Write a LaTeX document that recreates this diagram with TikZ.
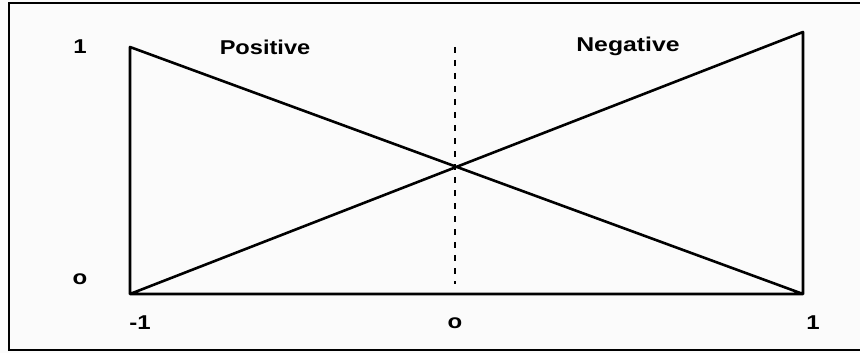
\documentclass[tikz,border=0pt]{standalone}
\usepackage{fontspec}
\setmainfont{Liberation Sans}
\begin{document}
\begin{tikzpicture}[x=1pt,y=-1pt,
  lbl/.style={font=\fontsize{20}{23}\selectfont\bfseries, inner sep=0pt, anchor=center},
  mf/.style={line width=2.6pt, line join=round, line cap=round},
  frame/.style={line width=2.8pt},
  zline/.style={line width=1.8pt, dash pattern=on 6pt off 7pt}]
\useasboundingbox (0,0) rectangle (860,353);
\fill[white!97!gray] (0,0) rectangle (860,353);
% frame
\draw[frame] (870,3) -- (9,3) -- (9,350) -- (870,350);
% coordinates
\coordinate (lt) at (130,47);
\coordinate (lb) at (130,294);
\coordinate (rt) at (803,32);
\coordinate (rb) at (803,294);
\coordinate (zt) at (455,47);
\coordinate (zb) at (455,284);
% membership functions
\draw[mf] (lb) -- (lt) -- (rb) -- (lb) -- (rt) -- (rb);
\draw[zline] (zt) -- (zb);
% labels
\node[lbl] (y1) at (80,47) {\scalebox{1.2}[1]{1}};
\node[lbl] (y0) at (80,279) {\scalebox{1.2}[1]{o}};
\node[lbl] (xm1) at (140,323) {\scalebox{1.2}[1]{-1}};
\node[lbl] (x0) at (455,323) {\scalebox{1.2}[1]{o}};
\node[lbl] (x1) at (813,323) {\scalebox{1.2}[1]{1}};
\node[lbl] (pos) at (265,47) {\scalebox{1.18}[1]{Positive}};
\node[lbl] (neg) at (628,46) {\scalebox{1.24}[1]{Negative}};
\end{tikzpicture}
\end{document}
